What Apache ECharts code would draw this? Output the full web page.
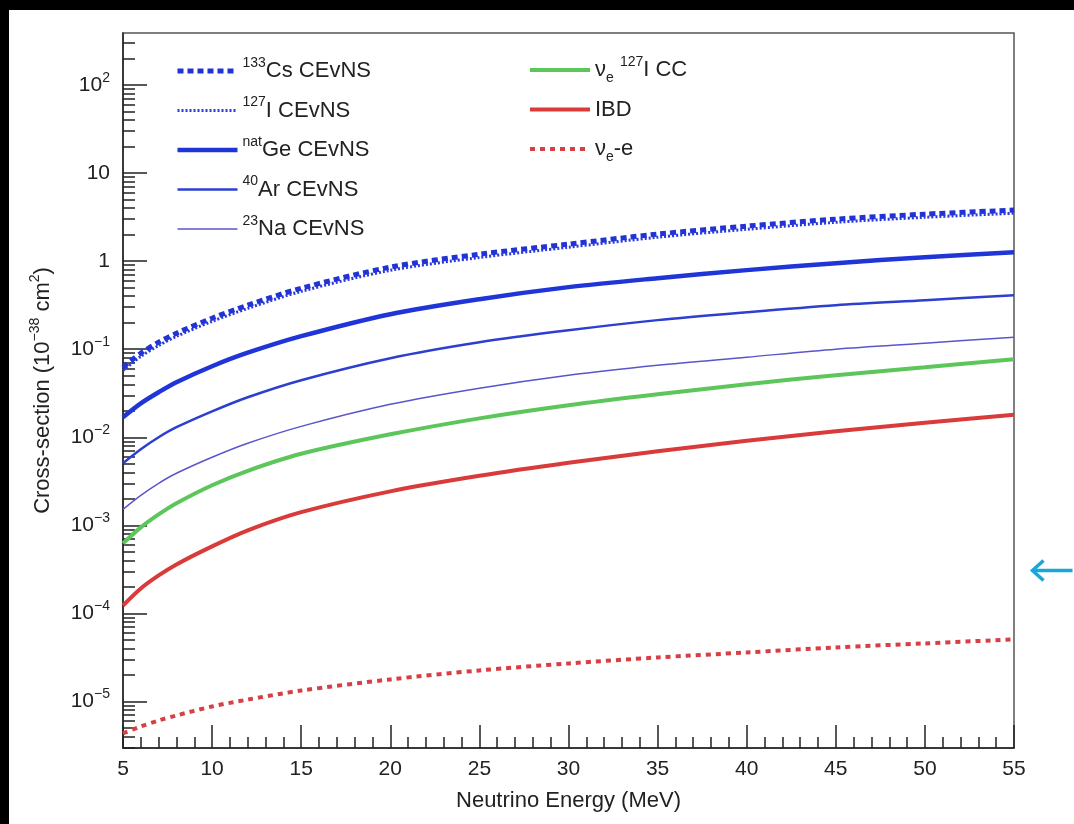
<!DOCTYPE html>
<html>
<head>
<meta charset="utf-8">
<script src="https://cdn.jsdelivr.net/npm/echarts@6/dist/echarts.min.js"></script>
<style>
  html, body { margin: 0; padding: 0; background: #000; }
  #paper { position: absolute; left: 9px; top: 10px; width: 1065px; height: 814px; background: #fff; }
  #main { position: absolute; left: 0; top: 0; width: 1074px; height: 824px; }
</style>
</head>
<body>
<div id="paper"></div>
<div id="main"></div>
<script>
// neutrino energy (MeV)
const energy = [5, 6, 7, 8, 10, 12, 15, 20, 25, 30, 35, 40, 45, 50, 55];

// cross sections in 1e-38 cm^2
const cs133 = [0.0624, 0.0901, 0.120, 0.152, 0.225, 0.316, 0.493, 0.855, 1.20, 1.56, 2.03, 2.50, 3.00, 3.42, 3.80];
const i127 = [0.0574, 0.0829, 0.110, 0.140, 0.207, 0.291, 0.454, 0.787, 1.10, 1.44, 1.87, 2.30, 2.76, 3.15, 3.50];
const geNat = [0.0169, 0.0243, 0.0325, 0.0422, 0.0641, 0.0912, 0.1406, 0.250, 0.370, 0.507, 0.641, 0.791, 0.949, 1.11, 1.265];
const ar40 = [0.00507, 0.00731, 0.0100, 0.0130, 0.0197, 0.0285, 0.0445, 0.0791, 0.120, 0.164, 0.214, 0.263, 0.316, 0.360, 0.411];
const na23 = [0.00152, 0.00219, 0.00300, 0.00390, 0.00593, 0.00855, 0.0133, 0.0237, 0.0361, 0.0507, 0.0658, 0.0811, 0.100, 0.117, 0.137];
const nueICC = [6.24e-4, 9.49e-4, 1.33e-3, 1.78e-3, 2.85e-3, 4.16e-3, 6.49e-3, 0.0108, 0.0164, 0.0231, 0.0308, 0.0400, 0.0507, 0.0624, 0.0770];
const ibd = [1.23e-4, 1.92e-4, 2.70e-4, 3.60e-4, 5.77e-4, 8.77e-4, 1.41e-3, 2.43e-3, 3.65e-3, 5.13e-3, 6.93e-3, 9.12e-3, 0.0117, 0.0146, 0.0180];
const nueE = [4.33e-6, 5.20e-6, 6.08e-6, 6.93e-6, 8.77e-6, 1.05e-5, 1.33e-5, 1.78e-5, 2.25e-5, 2.70e-5, 3.16e-5, 3.60e-5, 4.11e-5, 4.56e-5, 5.07e-5];

// axis ranges / ticks
const yMin = 2.96e-6;
const yMax = 390;
const majorTicks = [1e-5, 1e-4, 1e-3, 1e-2, 1e-1, 1, 10, 100];
const minorTicks = [];
for (let p = -6; p <= 2; p++) {
  for (let k = 2; k <= 9; k++) {
    const v = k * Math.pow(10, p);
    if (v > yMin && v < yMax) minorTicks.push(v);
  }
}

const FONT = '"Liberation Sans", Arial, Helvetica, sans-serif';
const INK = '#222';

const legendText = {
  '133Cs CEvNS': '{sup|133}Cs CEvNS',
  '127I CEvNS': '{sup|127}I CEvNS',
  'natGe CEvNS': '{sup|nat}Ge CEvNS',
  '40Ar CEvNS': '{sup|40}Ar CEvNS',
  '23Na CEvNS': '{sup|23}Na CEvNS',
  'nue 127I CC': 'ν{sub|e} {sup|127}I CC',
  'IBD': 'IBD',
  'nue-e': 'ν{sub|e}-e'
};

const richSup = {
  sup: { fontSize: 14, lineHeight: 14, verticalAlign: 'top', fontFamily: FONT, color: INK },
  sub: { fontSize: 14, lineHeight: 14, verticalAlign: 'bottom', fontFamily: FONT, color: INK }
};

function pairs(ys) {
  return energy.map((e, i) => [e, ys[i]]);
}

function line(name, ys, color, width, type) {
  return {
    name: name,
    type: 'line',
    data: pairs(ys),
    smooth: 0.3,
    symbol: 'none',
    lineStyle: { color: color, width: width, type: type || 'solid' },
    itemStyle: { color: color }
  };
}

const series = [
  line('133Cs CEvNS', cs133, '#2233d6', 5, [6, 4]),
  line('127I CEvNS', i127, '#2a3ad8', 3, [2, 2]),
  line('natGe CEvNS', geNat, '#1f35d8', 4.5),
  line('40Ar CEvNS', ar40, '#2c3fcf', 2.5),
  line('23Na CEvNS', na23, '#5a55c9', 1.5),
  line('nue 127I CC', nueICC, '#5cc65a', 4),
  line('IBD', ibd, '#d93a3a', 4),
  line('nue-e', nueE, '#d63f44', 4, [5, 5])
];

// legend entries carry the series line width (legend defaults to 2px)
function legendItems(names) {
  return names.map(n => {
    const s = series.find(x => x.name === n);
    return { name: n, lineStyle: { width: s.lineStyle.width } };
  });
}

const legendBase = {
  orient: 'vertical',
  padding: 0,
  itemWidth: 60,
  itemHeight: 14,
  itemGap: 9.5,
  itemStyle: { opacity: 0 },
  formatter: n => legendText[n],
  textStyle: { fontSize: 22, lineHeight: 30, color: INK, fontFamily: FONT, rich: richSup }
};

const myChart = echarts.init(document.getElementById('main'));
myChart.setOption({
  backgroundColor: 'transparent',
  animation: false,
  grid: {
    left: 123, top: 33, width: 891, height: 715,
    show: true, borderColor: '#555', borderWidth: 1.5,
    outerBoundsMode: 'none'
  },
  legend: [
    Object.assign({}, legendBase, {
      left: 175, top: 56,
      data: legendItems(['133Cs CEvNS', '127I CEvNS', 'natGe CEvNS', '40Ar CEvNS', '23Na CEvNS'])
    }),
    Object.assign({}, legendBase, {
      left: 528, top: 55,
      data: legendItems(['nue 127I CC', 'IBD', 'nue-e'])
    })
  ],
  xAxis: {
    type: 'value',
    min: 5, max: 55, interval: 5,
    axisLine: { show: true, lineStyle: { color: INK, width: 1.5 } },
    axisTick: { show: true, inside: true, length: 23, lineStyle: { color: INK, width: 1.5 } },
    minorTick: { show: true, splitNumber: 5, length: 11, lineStyle: { color: INK, width: 1.5 } },
    axisLabel: { fontSize: 21, margin: 11, color: INK, fontFamily: FONT },
    splitLine: { show: false },
    name: 'Neutrino Energy (MeV)',
    nameLocation: 'middle',
    nameGap: 42,
    nameTextStyle: { fontSize: 22, color: INK, fontFamily: FONT }
  },
  yAxis: [
    {
      type: 'log', logBase: 10, min: yMin, max: yMax,
      position: 'left',
      axisLine: { show: true, lineStyle: { color: INK, width: 1.5 } },
      axisTick: { show: true, inside: true, length: 24, lineStyle: { color: INK, width: 1.5 }, customValues: majorTicks },
      axisLabel: {
        customValues: majorTicks,
        margin: 13,
        fontSize: 21,
        lineHeight: 28,
        color: INK,
        fontFamily: FONT,
        formatter: v => {
          const p = Math.round(Math.log10(v));
          if (p === 0) return '1';
          if (p === 1) return '10';
          return '10{sup|' + (p < 0 ? '\u2212' + (-p) : p) + '}';
        },
        rich: richSup
      },
      splitLine: { show: false },
      name: 'Cross-section (10{sup|\u221238} cm{sup|2})',
      nameLocation: 'middle',
      nameGap: 65,
      nameRotate: 90,
      nameTextStyle: { fontSize: 22, lineHeight: 30, color: INK, fontFamily: FONT, rich: richSup }
    },
    {
      type: 'log', logBase: 10, min: yMin, max: yMax,
      position: 'left',
      offset: 0,
      axisLine: { show: false },
      axisTick: { show: true, inside: true, length: 12, lineStyle: { color: INK, width: 1.5 }, customValues: minorTicks },
      axisLabel: { show: false },
      splitLine: { show: false }
    }
  ],
  series: series,
  graphic: [{
    type: 'group',
    left: 1030,
    top: 558,
    silent: true,
    children: [
      { type: 'line', shape: { x1: 3, y1: 11, x2: 42, y2: 11 }, style: { stroke: '#19a7da', lineWidth: 3.5 } },
      { type: 'polyline', shape: { points: [[13, 1], [2, 11], [13, 21]] }, style: { stroke: '#19a7da', lineWidth: 3.5, fill: null } }
    ]
  }]
});
</script>
</body>
</html>
